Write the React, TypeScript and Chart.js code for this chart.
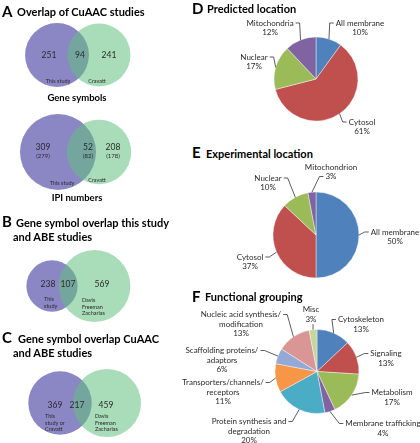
import React, { useEffect, useRef } from "react";
import { Chart, registerables } from "chart.js";

Chart.register(...registerables);

const FONT = "Lato, 'Noto Sans', sans-serif";
const TEXT = "#2a2a2a";

// ---------- Panels A–C : Venn counts [only first set, both, only second set]
const A1_COUNTS = [251, 94, 241];
const A1_SETS = [["This study"], ["Cravatt"]];
const A2_COUNTS = [309, 52, 208];
const A2_ALT_COUNTS = [279, 82, 178];
const A2_SETS = [["This study"], ["Cravatt"]];
const B_COUNTS = [238, 107, 569];
const B_SETS = [["This", "study"], ["Davis", "Freeman", "Zacharias"]];
const C_COUNTS = [369, 217, 459];
const C_SETS = [["This", "study or", "Cravatt"], ["Davis", "Freeman", "Zacharias"]];

// ---------- Panel D : predicted location (%)
const D_CATEGORIES = ["All membrane", "Cytosol", "Nuclear", "Mitochondria"];
const D_VALUES = [10, 61, 17, 12];

// ---------- Panel E : experimental location (%)
const E_CATEGORIES = ["All membrane", "Cytosol", "Nuclear", "Mitochondrion"];
const E_VALUES = [50, 37, 10, 3];

// ---------- Panel F : functional grouping (%)
const F_CATEGORIES = [
  "Cytoskeleton",
  "Signaling",
  "Metabolism",
  "Membrane trafficking",
  "Protein synthesis and degradation",
  "Transporters/channels/receptors",
  "Scaffolding proteins/adaptors",
  "Nucleic acid synthesis/modification",
  "Misc",
];
const F_VALUES = [13, 13, 17, 4, 20, 11, 6, 13, 3];

// ---------- styles / layout
const PURPLE = "rgb(139,135,197)";
const GREEN = "rgba(99,191,126,0.55)";
const COLORS4 = ["#4F81BD", "#C0504D", "#9BBB59", "#8064A2"];
const F_COLORS = ["#4F81BD", "#C0504D", "#9BBB59", "#8064A2", "#4BACC6", "#F79646", "#93A9D8", "#D99694", "#C3D69B"];

const VENNS = [
  { counts: A1_COUNTS, sets: A1_SETS, k: 1.72, cx: [57, 99], cy: 55, numX: [49, 80, 109], numY: 55, align: "center", setPos: [[58, 81], [97, 81]], caption: "Gene symbols", capY: 98 },
  { counts: A2_COUNTS, alt: A2_ALT_COUNTS, sets: A2_SETS, k: 2.0, cx: [58, 99], cy: 152, numX: [43, 88, 113], numY: 147, align: "center", setPos: [[62, 183], [97, 180]], caption: "IPI numbers", capY: 198 },
  { counts: B_COUNTS, sets: B_SETS, k: 1.38, cx: [52, 94.5], cy: 286, numX: [48, 68, 102], numY: 284, align: "left", setPos: [[44, 299], [82, 300]] },
  { counts: C_COUNTS, sets: C_SETS, k: 1.31, cx: [60, 107], cy: 403, numX: [55, 77, 106], numY: 405, align: "left", setPos: [[45, 416], [95, 416]] },
];

// label offsets from pie centre: [dx, dy, attach]
const D_LABEL_POS: any[] = [[44, -56], [46, 43], [-62, -22], [-46, -56]];
const E_LABEL_POS: any[] = [[79, -3], [-66, 22], [-48, -57], [15, -68, 1]];
const F_LABEL_POS: any[] = [
  [44, -52], [69, -18], [75, 21], [66, 52], [-68, 50], [-94, 11], [-95, -21], [-76, -57], [-6, -62, "bottom"],
];

function wrap(ctx: CanvasRenderingContext2D, text: string, maxW: number): string[] {
  const toks = text.match(/[^\s/]+\/?\s*/g) || [text];
  const out: string[] = [];
  let line = "";
  for (const t of toks) {
    const cand = line + t;
    if (line && ctx.measureText(cand.trim()).width > maxW) {
      out.push(line.trim());
      line = t;
    } else line = cand;
  }
  if (line.trim()) out.push(line.trim());
  return out;
}

const pieLabelPlugin = {
  id: "pieLabels",
  afterDatasetsDraw(chart: any, _args: any, opts: any) {
    const meta = chart.getDatasetMeta(0);
    const ctx: CanvasRenderingContext2D = chart.ctx;
    const labels = chart.data.labels;
    const values = chart.data.datasets[0].data;
    const lh = opts.lineHeight;
    ctx.save();
    ctx.font = `${opts.fontSize}px ${FONT}`;
    ctx.fillStyle = TEXT;
    ctx.strokeStyle = "rgba(0,0,0,0.8)";
    ctx.lineWidth = 0.8;
    ctx.textAlign = "center";
    ctx.textBaseline = "middle";
    meta.data.forEach((arc: any, i: number) => {
      const p = arc.getProps(["x", "y", "startAngle", "endAngle", "outerRadius"], true);
      const mid = (p.startAngle + p.endAngle) / 2;
      const ax = p.x + Math.cos(mid) * p.outerRadius;
      const ay = p.y + Math.sin(mid) * p.outerRadius;
      const [dx, dy, attach] = opts.positions[i];
      const lines = [...wrap(ctx, String(labels[i]), opts.maxWidth), `${values[i]}%`];
      const lx = p.x + dx;
      const ly = p.y + dy;
      lines.forEach((t, j) => ctx.fillText(t, lx, ly + j * lh));
      ctx.beginPath();
      if (attach === "bottom") {
        const py = ly + (lines.length - 1) * lh + lh * 0.55;
        ctx.moveTo(lx + 2, py);
        ctx.lineTo(ax, ay);
      } else {
        const li = attach === 1 ? 1 : 0;
        const w = ctx.measureText(lines[li]).width;
        const side = dx > 0 ? -1 : 1;
        const px = lx + side * (w / 2 + 2);
        const py = ly + li * lh;
        ctx.moveTo(px, py);
        ctx.lineTo(px + side * 4, py);
        ctx.lineTo(ax, ay);
      }
      ctx.stroke();
    });
    ctx.restore();
  },
};

const vennTextPlugin = {
  id: "vennText",
  afterDatasetsDraw(chart: any) {
    const ctx: CanvasRenderingContext2D = chart.ctx;
    const X = (v: number) => chart.scales.x.getPixelForValue(v);
    const Y = (v: number) => chart.scales.y.getPixelForValue(v);
    ctx.save();
    ctx.fillStyle = TEXT;
    ctx.textBaseline = "middle";
    VENNS.forEach((v: any) => {
      ctx.font = `8.5px ${FONT}`;
      ctx.textAlign = "center";
      v.counts.forEach((c: number, i: number) => ctx.fillText(String(c), X(v.numX[i]), Y(v.numY)));
      if (v.alt) {
        ctx.font = `6px ${FONT}`;
        v.alt.forEach((c: number, i: number) => ctx.fillText(`(${c})`, X(v.numX[i]), Y(v.numY + 9)));
      }
      ctx.font = `5.5px ${FONT}`;
      ctx.textAlign = v.align;
      v.sets.forEach((lines: string[], s: number) => {
        lines.forEach((t, j) => ctx.fillText(t, X(v.setPos[s][0]), Y(v.setPos[s][1] + j * 6.8)));
      });
      if (v.caption) {
        ctx.font = `bold 9.5px ${FONT}`;
        ctx.textAlign = "center";
        ctx.fillStyle = "#000";
        ctx.fillText(v.caption, X(77), Y(v.capY));
        ctx.fillStyle = TEXT;
      }
    });
    ctx.restore();
  },
};

function makePie(canvas: HTMLCanvasElement, cats: string[], vals: number[], colors: string[], radius: number, padLeft: number, positions: any[]) {
  return new Chart(canvas, {
    type: "pie",
    data: {
      labels: cats,
      datasets: [
        {
          data: vals,
          backgroundColor: colors,
          borderColor: "rgba(255,255,255,0.6)",
          borderWidth: 0.7,
          radius,
        } as any,
      ],
    },
    options: {
      responsive: false,
      animation: false,
      events: [],
      layout: { padding: { left: padLeft } },
      plugins: {
        legend: { display: false },
        tooltip: { enabled: false },
        pieLabels: { positions, fontSize: 8, lineHeight: 9.5, maxWidth: 85 },
      } as any,
    },
    plugins: [pieLabelPlugin],
  });
}

const Txt = ({ x, base, size, bold, children }: any) => (
  <div
    style={{
      position: "absolute",
      left: x,
      top: base - 0.987 * size,
      fontSize: size,
      lineHeight: `${size * 1.2}px`,
      fontWeight: bold ? 700 : 400,
      fontFamily: FONT,
      whiteSpace: "nowrap",
      color: "#000",
    }}
  >
    {children}
  </div>
);

export default function App() {
  const vennRef = useRef<HTMLCanvasElement>(null);
  const dRef = useRef<HTMLCanvasElement>(null);
  const eRef = useRef<HTMLCanvasElement>(null);
  const fRef = useRef<HTMLCanvasElement>(null);

  useEffect(() => {
    const pts: any[] = [];
    const bg: string[] = [];
    VENNS.forEach((v) => {
      const tA = v.counts[0] + v.counts[1];
      const tB = v.counts[1] + v.counts[2];
      pts.push({ x: v.cx[0], y: v.cy, r: v.k * Math.sqrt(tA) });
      bg.push(PURPLE);
      pts.push({ x: v.cx[1], y: v.cy, r: v.k * Math.sqrt(tB) });
      bg.push(GREEN);
    });
    const venn = new Chart(vennRef.current!, {
      type: "bubble",
      data: { datasets: [{ data: pts, backgroundColor: bg, borderWidth: 0, hoverRadius: 0, clip: false } as any] },
      options: {
        responsive: false,
        animation: false,
        events: [],
        layout: { padding: 0, autoPadding: false },
        scales: {
          x: { type: "linear", min: 0, max: 190, display: false },
          y: { type: "linear", min: 0, max: 443, reverse: true, display: false },
        },
        plugins: { legend: { display: false }, tooltip: { enabled: false } },
      },
      plugins: [vennTextPlugin],
    });
    const d = makePie(dRef.current!, D_CATEGORIES, D_VALUES, COLORS4, 42, 2, D_LABEL_POS);
    const e = makePie(eRef.current!, E_CATEGORIES, E_VALUES, COLORS4, 43, 2, E_LABEL_POS);
    const f = makePie(fRef.current!, F_CATEGORIES, F_VALUES, F_COLORS, 42, 44, F_LABEL_POS);
    return () => {
      venn.destroy();
      d.destroy();
      e.destroy();
      f.destroy();
    };
  }, []);

  const cv = (l: number, t: number): React.CSSProperties => ({ position: "absolute", left: l, top: t, display: "block" });

  return (
    <div style={{ position: "absolute", left: 0, top: 0, width: 420, height: 443, background: "#fff", overflow: "hidden" }}>
      <canvas ref={vennRef} width={190} height={443} style={cv(0, 0)} />
      <canvas ref={dRef} width={210} height={126} style={cv(210, 16)} />
      <canvas ref={eRef} width={210} height={150} style={cv(210, 160)} />
      <canvas ref={fRef} width={250} height={143} style={cv(170, 300)} />

      <Txt x={2} base={16.5} size={15} bold>A</Txt>
      <Txt x={17} base={16} size={11} bold>Overlap of CuAAC studies</Txt>

      <Txt x={2} base={227} size={15} bold>B</Txt>
      <Txt x={16} base={227} size={11} bold>Gene symbol overlap this study</Txt>
      <Txt x={13} base={241} size={11} bold>and ABE studies</Txt>

      <Txt x={2} base={343} size={15} bold>C</Txt>
      <Txt x={18} base={343} size={11} bold>Gene symbol overlap CuAAC</Txt>
      <Txt x={13} base={357} size={11} bold>and ABE studies</Txt>

      <Txt x={192} base={13.5} size={15} bold>D</Txt>
      <Txt x={207} base={13} size={11} bold>Predicted location</Txt>

      <Txt x={192} base={158} size={15} bold>E</Txt>
      <Txt x={206} base={157.5} size={11} bold>Experimental location</Txt>

      <Txt x={192} base={301.5} size={15} bold>F</Txt>
      <Txt x={205} base={301} size={11} bold>Functional grouping</Txt>
    </div>
  );
}
